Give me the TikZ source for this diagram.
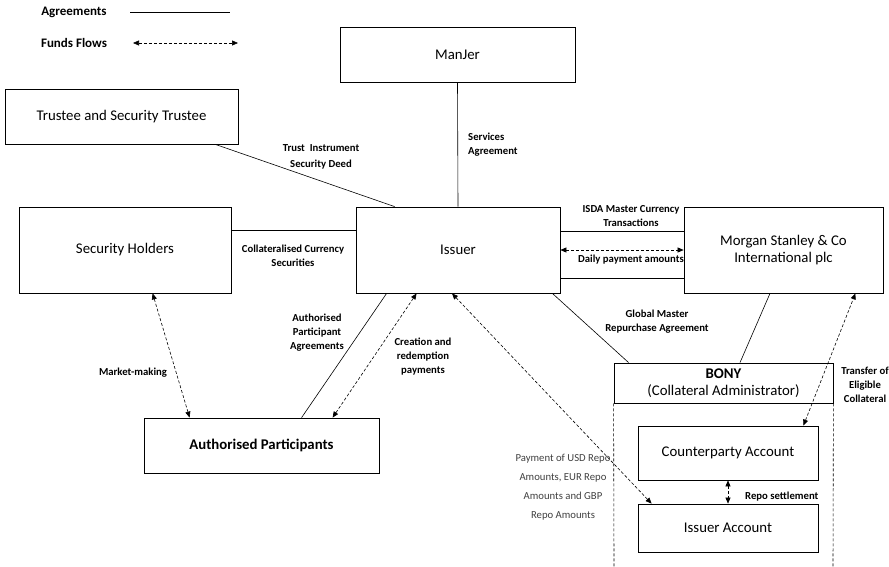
\documentclass[tikz,border=0pt]{standalone}
\usepackage{fontspec}
\setmainfont{Carlito}
\usetikzlibrary{arrows.meta}

\begin{document}
\begin{tikzpicture}[x=1pt,y=-1pt]
		\tikzset{
			ebox/.style={
				draw, line width=0.8pt, align=center, inner sep=0pt,
				font=\fontsize{14.8}{17.5}\selectfont
			},
			lbl/.style={
				align=center, inner sep=0pt,
				font=\fontsize{10.7}{14}\selectfont\bfseries
			},
			agree/.style={
				draw, line width=0.6pt
			},
			flow/.style={
				draw, line width=0.6pt, dash pattern=on 3pt off 2pt,
				{Triangle[width=5pt,length=6pt]}-{Triangle[width=5pt,length=6pt]}
			}
		}
		\useasboundingbox (0,0) rectangle (889,567);
		
		% legend
		\node [lbl, font=\fontsize{13}{14}\selectfont\bfseries] (lagr) at (74,12) {Agreements};
		\node [lbl, font=\fontsize{13}{14}\selectfont\bfseries] (lflow) at (74,43) {Funds Flows};
		\coordinate (agrA) at (130,12);
		\coordinate (agrB) at (230,12);
		\coordinate (flowA) at (133,43);
		\coordinate (flowB) at (238,43);
		\path (agrA) edge [agree] (agrB);
		\path (flowA) edge [flow] (flowB);
		
		% parties
		\node [ebox, minimum width=233, minimum height=55] (trustee) at (121.5,116.5) {Trustee and Security Trustee};
		\node [ebox, minimum width=235, minimum height=55] (manjer) at (457.5,54.5) {ManJer};
		\node [ebox, minimum width=212, minimum height=86] (holders) at (125,250) {Security Holders};
		\node [ebox, minimum width=204, minimum height=86] (issuer) at (458,250) {Issuer};
		\node [ebox, minimum width=199, minimum height=86] (ms) at (783.5,250) {Morgan Stanley \& Co\\International plc};
		\node [ebox, minimum width=235, minimum height=55, font=\fontsize{14.8}{17}\selectfont\bfseries] (ap) at (261.5,445.5) {Authorised Participants};
		\node [ebox, minimum width=219, minimum height=40] (bony) at (723.5,383) {\textbf{BONY}\\(Collateral Administrator)};
		\node [ebox, minimum width=180, minimum height=54] (cpacc) at (728,453) {Counterparty Account};
		\node [ebox, minimum width=180, minimum height=48] (issacc) at (728,528) {Issuer Account};
		
		% sides of BONY
		\foreach \s/\x in {west/614, east/833}{
			\coordinate (bony\s) at (\x,567);
			\path (bony.south \s) edge [agree, dash pattern=on 3pt off 2pt] (bony\s);
		}
		
		% agreements
		\path ([xshift=-23pt]trustee.south east) edge [agree] ([xshift=39pt]issuer.north west);
		\path (manjer.south) edge [agree] (issuer.north);
		\path ([yshift=20pt]holders.east) edge [agree] ([yshift=20pt]issuer.west);
		\path ([yshift=19pt]issuer.east) edge [agree] ([yshift=19pt]ms.west);
		\path ([yshift=-28pt]issuer.east) edge [agree] ([yshift=-28pt]ms.west);
		\path ([xshift=-8pt]issuer.south east) edge [agree] ([xshift=15pt]bony.north west);
		\path ([xshift=-13.5pt]ms.south) edge [agree] ([xshift=16.5pt]bony.north);
		\path ([xshift=158pt]ap.north west) edge [agree] ([xshift=31pt]issuer.south west);
		
		% funds flows
		\path (issuer.east) edge [flow] (ms.west);
		\path ([xshift=134pt]holders.south west) edge [flow] ([xshift=46pt]ap.north west);
		\path ([xshift=189pt]ap.north west) edge [flow] ([xshift=61pt]issuer.south west);
		\path ([xshift=-6pt]issuer.south) edge [flow] ([xshift=14pt]issacc.north west);
		\path ([xshift=-15pt]cpacc.north east) edge [flow] ([xshift=-28pt]ms.south east);
		\path (cpacc.south) edge [flow] (issacc.north);
		
		% labels
		\node [lbl] (ltrust) at (321,157) {Trust\ \ Instrument\\[2pt]Security Deed};
		\node [lbl, align=left, anchor=west] (lserv) at (468,145) {Services\\Agreement};
		\node [lbl] (lcoll) at (293,256) {Collateralised Currency\\Securities};
		\node [lbl] (lisda) at (631,216) {ISDA Master Currency\\Transactions};
		\node [lbl] (ldaily) at (631,260) {Daily payment amounts};
		\node [lbl] (lgmra) at (657,322) {Global Master\\Repurchase Agreement};
		\node [lbl] (lapa) at (317,333) {Authorised\\Participant\\Agreements};
		\node [lbl] (lcre) at (423,357) {Creation and\\redemption\\payments};
		\node [lbl] (lmkt) at (133,373) {Market-making};
		\node [lbl] (ltrans) at (865,385) {Transfer of\\Eligible\\Collateral};
		\node [lbl, anchor=west] (lrepo) at (745,497) {Repo settlement};
		\node [align=center, inner sep=0pt, text=black!75, font=\fontsize{10.7}{19}\selectfont] (lpay) at (563,487) {Payment of USD Repo\\Amounts, EUR Repo\\Amounts and GBP\\Repo Amounts};
\end{tikzpicture}
\end{document}
